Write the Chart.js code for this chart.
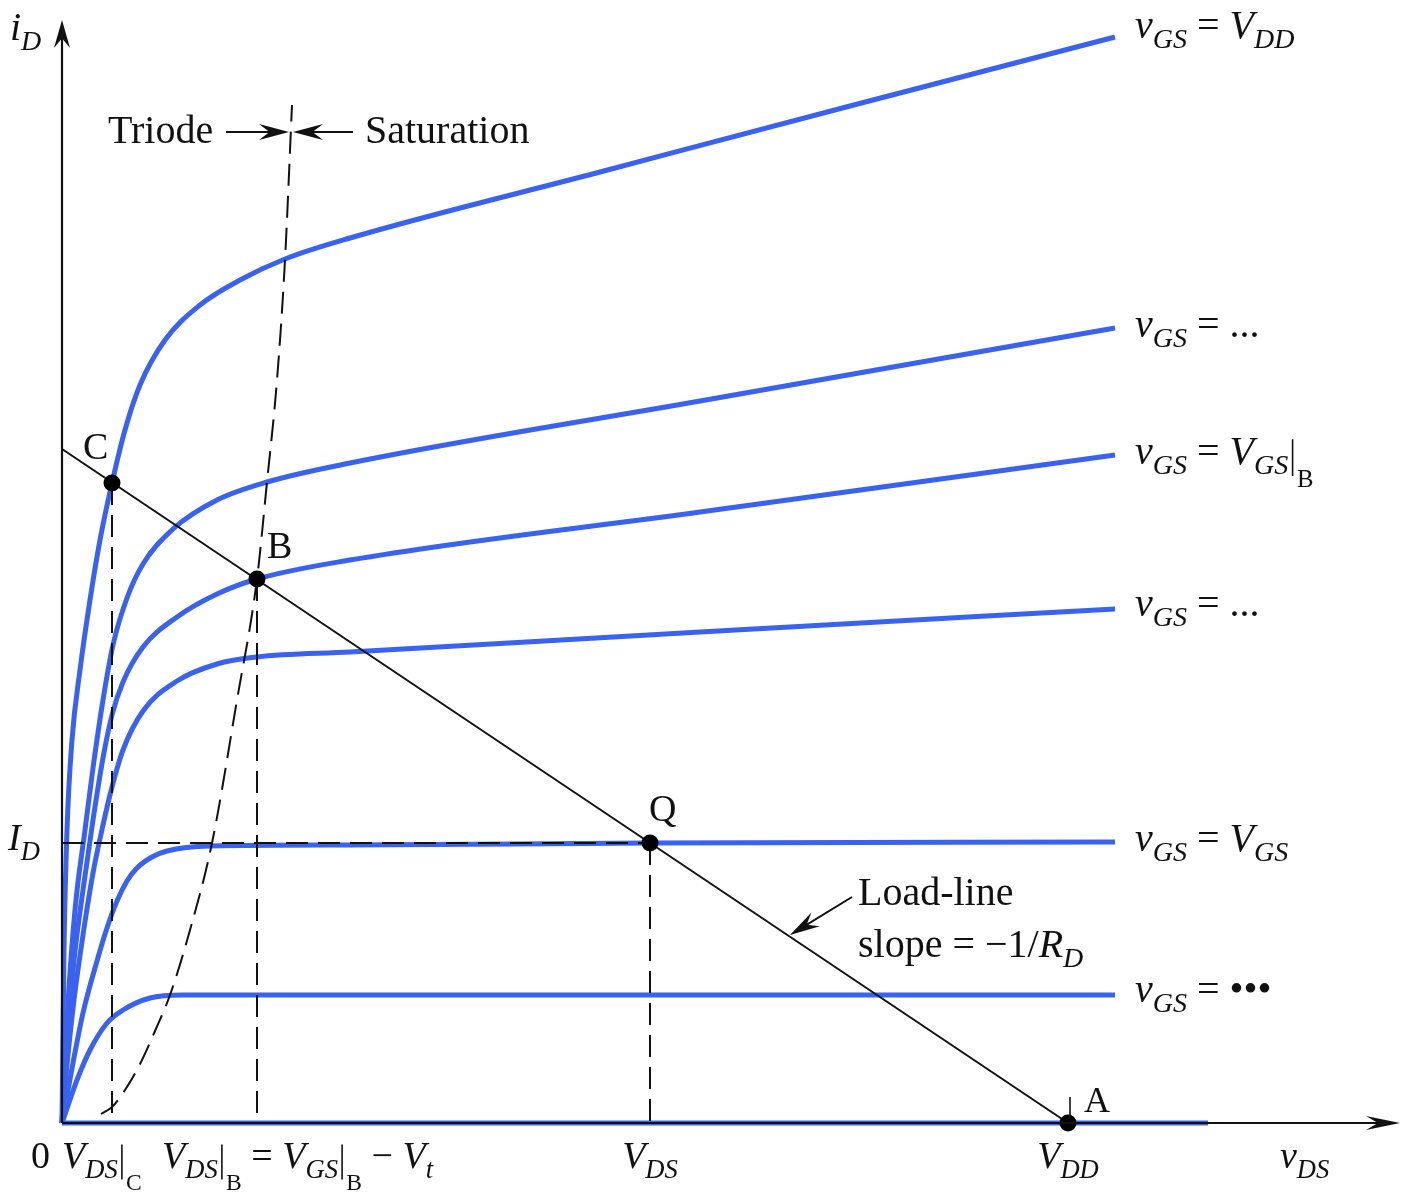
<!DOCTYPE html>
<html lang="en">
<head>
<meta charset="UTF-8" />
<title>MOSFET output characteristics and load line</title>
<script src="https://cdn.jsdelivr.net/npm/chart.js"></script>
<style>
  html, body { margin: 0; padding: 0; background: #fff; }
  canvas { display: block; }
</style>
</head>
<body>
<canvas id="idChart" width="1413" height="1193"></canvas>
<script>
// iD-vDS curves, as [vDS, iD] pairs (arbitrary units)
const curveVDD = [[0,0],[0.2,17.3],[0.5,29.3],[1,38.3],[1.8,45.3],[2.8,52.3],[3.8,58.3],[5,64],[6.3,69.3],[7.8,73.8],[10.3,78.3],[13.8,81.8],[17.8,84.3],[22.3,86.4],[28.8,88.5],[53.8,95.1],[78.8,101.7],[105.3,108.6]];
const curve2 = [[0,0],[0.5,10.3],[1.3,21.3],[2.3,29.3],[3.1,35.5],[4.1,42.3],[5.1,47.8],[6.5,52.5],[8.1,55.9],[11.1,59.4],[15.5,62.3],[20.5,64.1],[28.8,66],[63.8,72.2],[105.3,79.5]];
const curveB = [[0,0],[0.5,8.3],[1.2,16.3],[2.1,23.3],[3.1,30.3],[4.1,36.5],[5,40.8],[6.1,44.1],[8.1,47.6],[11.5,50.6],[15.5,52.9],[19.5,54.4],[28.8,56.3],[63.8,61.1],[105.3,66.8]];
const curve4 = [[0,0],[0.5,5.8],[1.2,12.3],[2.1,18.8],[3.1,25],[4.1,29.8],[5,33.6],[6.1,37.3],[8.1,41.2],[11.5,44.2],[15.5,45.9],[19.5,46.6],[28.8,47.1],[63.8,49.1],[105.3,51.4]];
const curveVGS = [[0,0],[1.1,6],[2.1,11],[3.5,16.2],[4.5,19.5],[5.5,22.2],[6.5,24.2],[7.5,25.5],[9,26.6],[10.5,27.2],[14.8,27.7],[28.8,27.8],[58.8,28],[105.3,28.1]];
const curve6 = [[0,0],[1.5,4.3],[2.8,7.3],[4.5,10],[6.1,11.3],[8.8,12.5],[12.1,12.8],[105.3,12.8]];
const curveOff = [[0,0],[114.6,0]];

// triode / saturation boundary
const satEdge = [[3.9,0.9],[5,1.6],[6.3,3.3],[7.8,5.9],[9.3,9.2],[10.8,12.8],[12.8,19.3],[15,28],[17.5,42.3],[19.5,54.4],[20.5,64.1],[21.5,74.3],[22.3,86.3],[23,101.8]];

// load line and operating points
const loadLine = [[0,67.4],[100.6,0]];
const pointC = [5, 64];
const pointB = [19.5, 54.4];
const pointQ = [58.8, 28];
const pointA = [100.6, 0];

const blue = "rgb(58, 98, 240)";
const serif = '"Liberation Serif", "Times New Roman", serif';

function pts(a) {
  return a.map((p) => ({ x: p[0], y: p[1] }));
}

function curve(a) {
  return {
    data: pts(a), showLine: true, borderColor: blue, borderWidth: 5,
    pointRadius: 0, cubicInterpolationMode: "monotone", clip: false, order: 3,
  };
}

function dashed(a, smooth) {
  return {
    data: pts(a), showLine: true, borderColor: "#111", borderWidth: 2,
    borderDash: [22, 10], pointRadius: 0, clip: false, order: 2,
    cubicInterpolationMode: smooth ? "monotone" : "default",
  };
}

// text with italic letters, subscripts and the "evaluated at" bar
function rich(ctx, x, y, size, parts, align) {
  const seg = parts.map(([t, k]) => {
    if (k === "bar") return { k, w: size * 0.22 };
    const fs = k === "s" ? size * 0.7 : k === "b" ? size * 0.62 : size;
    const font = (k === "i" || k === "s" ? "italic " : "") + fs + "px " + serif;
    ctx.font = font;
    return { t, k, font, w: ctx.measureText(t).width };
  });
  let cx = x;
  if (align === "center") cx -= seg.reduce((a, s) => a + s.w, 0) / 2;
  seg.forEach((s) => {
    if (s.k === "bar") {
      ctx.lineWidth = 1.6;
      ctx.beginPath();
      ctx.moveTo(cx + s.w / 2, y - size * 0.62);
      ctx.lineTo(cx + s.w / 2, y + size * 0.3);
      ctx.stroke();
    } else {
      ctx.font = s.font;
      const dy = s.k === "s" ? size * 0.25 : s.k === "b" ? size * 0.58 : 0;
      ctx.fillText(s.t, cx, y + dy);
    }
    cx += s.w;
  });
}

function arrow(ctx, x1, y1, x2, y2, len, half) {
  const d = Math.hypot(x2 - x1, y2 - y1);
  const ux = (x2 - x1) / d, uy = (y2 - y1) / d;
  ctx.beginPath();
  ctx.moveTo(x1, y1);
  ctx.lineTo(x2 - ux * len * 0.5, y2 - uy * len * 0.5);
  ctx.stroke();
  ctx.beginPath();
  ctx.moveTo(x2, y2);
  ctx.lineTo(x2 - ux * len - uy * half, y2 - uy * len + ux * half);
  ctx.lineTo(x2 - ux * len * 0.65, y2 - uy * len * 0.65);
  ctx.lineTo(x2 - ux * len + uy * half, y2 - uy * len - ux * half);
  ctx.closePath();
  ctx.fill();
}

const annotate = {
  id: "annotate",
  afterDatasetsDraw(chart) {
    const { ctx, chartArea } = chart;
    const xs = chart.scales.x, ys = chart.scales.y;
    const x0 = xs.getPixelForValue(0), y0 = ys.getPixelForValue(0);
    ctx.save();
    ctx.strokeStyle = "#111";
    ctx.fillStyle = "#111";

    // axes with arrow heads
    ctx.lineWidth = 2.2;
    arrow(ctx, x0, y0, x0, chartArea.top - 3, 28, 8);
    arrow(ctx, x0, y0, xs.getPixelForValue(133.8), y0, 34, 7);

    // small tick above A
    const ax = xs.getPixelForValue(pointA[0]);
    ctx.lineWidth = 1.6;
    ctx.beginPath();
    ctx.moveTo(ax + 2, y0 - 26);
    ctx.lineTo(ax + 2, y0 - 4);
    ctx.stroke();

    // triode / saturation arrows
    ctx.lineWidth = 2;
    arrow(ctx, 226, 132, 289, 132, 30, 8);
    arrow(ctx, 353, 132, 293, 132, 30, 8);
    // load-line pointer
    arrow(ctx, 852, 897, 790, 935, 30, 8);

    ctx.textBaseline = "alphabetic";
    rich(ctx, 108, 143, 40, [["Triode", "r"]]);
    rich(ctx, 365, 143, 40, [["Saturation", "r"]]);
    rich(ctx, 858, 905, 40, [["Load-line", "r"]]);
    rich(ctx, 858, 957, 40, [["slope = \u22121/", "r"], ["R", "i"], ["D", "s"]]);

    // axis names
    rich(ctx, 10, 40, 40, [["i", "i"], ["D", "s"]]);
    rich(ctx, 8, 850, 38, [["I", "i"], ["D", "s"]]);
    rich(ctx, 1280, 1168, 38, [["v", "i"], ["DS", "s"]]);

    // point letters
    rich(ctx, 83, 459, 38, [["C", "r"]]);
    rich(ctx, 267, 558, 38, [["B", "r"]]);
    rich(ctx, 649, 821, 38, [["Q", "r"]]);
    rich(ctx, 1084, 1112, 36, [["A", "r"]]);

    // x-axis markers
    rich(ctx, 31, 1168, 38, [["0", "r"]]);
    rich(ctx, 62, 1168, 38, [["V", "i"], ["DS", "s"], ["", "bar"], ["C", "b"]]);
    rich(ctx, 162, 1168, 38, [["V", "i"], ["DS", "s"], ["", "bar"], ["B", "b"], [" = ", "r"],
      ["V", "i"], ["GS", "s"], ["", "bar"], ["B", "b"], [" \u2212 ", "r"], ["V", "i"], ["t", "s"]]);
    rich(ctx, xs.getPixelForValue(pointQ[0]), 1168, 38, [["V", "i"], ["DS", "s"]], "center");
    rich(ctx, ax, 1168, 38, [["V", "i"], ["DD", "s"]], "center");

    // curve labels on the right
    const lx = 1135;
    rich(ctx, lx, 38, 40, [["v", "i"], ["GS", "s"], [" = ", "r"], ["V", "i"], ["DD", "s"]]);
    rich(ctx, lx, 337, 40, [["v", "i"], ["GS", "s"], [" = ...", "r"]]);
    rich(ctx, lx, 464, 40, [["v", "i"], ["GS", "s"], [" = ", "r"], ["V", "i"], ["GS", "s"], ["", "bar"], ["B", "b"]]);
    rich(ctx, lx, 616, 40, [["v", "i"], ["GS", "s"], [" = ...", "r"]]);
    rich(ctx, lx, 851, 40, [["v", "i"], ["GS", "s"], [" = ", "r"], ["V", "i"], ["GS", "s"]]);
    rich(ctx, lx, 1002, 40, [["v", "i"], ["GS", "s"], [" = \u2022\u2022\u2022", "r"]]);
    ctx.restore();
  },
};

const datasets = [
  {
    data: pts([pointC, pointB, pointQ, pointA]), showLine: false,
    pointRadius: 8.5, pointBackgroundColor: "#000", pointBorderWidth: 0,
    clip: false, order: 1,
  },
  { data: pts(loadLine), showLine: true, borderColor: "#111", borderWidth: 2, pointRadius: 0, clip: false, order: 2 },
  dashed(satEdge, true),
  dashed([pointC, [pointC[0], 0]]),
  dashed([pointB, [pointB[0], 0]]),
  dashed([pointQ, [pointQ[0], 0]]),
  dashed([[0, pointQ[1]], pointQ]),
  curve(curveVDD),
  curve(curve2),
  curve(curveB),
  curve(curve4),
  curve(curveVGS),
  curve(curve6),
  curve(curveOff),
];

new Chart(document.getElementById("idChart"), {
  type: "scatter",
  data: { datasets },
  options: {
    responsive: false,
    animation: false,
    events: [],
    layout: { padding: { left: 62, right: 11, top: 23, bottom: 70 } },
    scales: {
      x: { type: "linear", min: 0, max: 134, display: false },
      y: { type: "linear", min: 0, max: 110, display: false },
    },
    plugins: { legend: { display: false }, tooltip: { enabled: false } },
  },
  plugins: [annotate],
});
</script>
</body>
</html>
